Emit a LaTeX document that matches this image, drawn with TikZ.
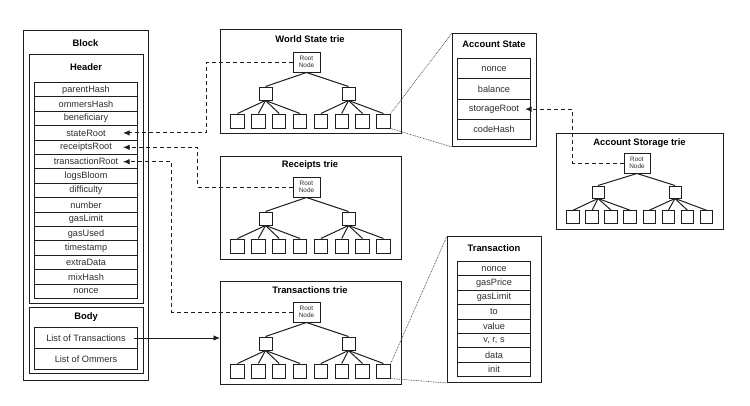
\documentclass[tikz,border=0pt]{standalone}
\usepackage{fontspec}
\setmainfont{Liberation Sans}
\usetikzlibrary{arrows.meta,calc}
\definecolor{ln}{HTML}{1E1E1E}
\definecolor{tx}{HTML}{2E2E2E}
\tikzset{
  frame/.style={draw=ln, line width=1pt, inner sep=0pt, anchor=north west},
  fld/.style={draw=ln, line width=1pt, inner sep=0pt, anchor=north west,
    font=\fontsize{9.2}{10}\selectfont, text=tx},
  ttl/.style={font=\bfseries\fontsize{9.4}{11}\selectfont, text=black, inner sep=0pt},
  rootn/.style={draw=ln, line width=1pt, inner sep=0pt, minimum width=27pt,
    minimum height=20pt, align=center, font=\fontsize{6.4}{7.6}\selectfont, text=tx},
  midn/.style={draw=ln, line width=1pt, inner sep=0pt, minimum width=13pt, minimum height=13pt},
  leafn/.style={draw=ln, line width=1pt, inner sep=0pt, minimum width=13.5pt, minimum height=14pt},
  edge/.style={draw=ln, line width=1pt},
  dashlink/.style={draw=ln, line width=1pt, dash pattern=on 4pt off 3pt,
    -{Latex[length=6.5pt,width=5.5pt]}},
  solidlink/.style={draw=ln, line width=0.9pt, -{Latex[length=6.5pt,width=5.5pt]}},
  zoomline/.style={draw=black!70, line width=0.7pt, dash pattern=on 0.8pt off 0.9pt}
}
\newcommand\mytrie[9]{%
  \node[rootn] (#1r) at (#2,#3) {Root\\Node};
  \node[midn] (#1m1) at (#6,#4) {};
  \node[midn] (#1m2) at (#7,#4) {};
  \foreach \k in {1,...,8} {\node[leafn] (#1l\k) at ({#8+#9*(\k-1)},#5) {};}
  \draw[edge] (#1r.south) -- (#1m1.north);
  \draw[edge] (#1r.south) -- (#1m2.north);
  \foreach \k in {1,...,4} {\draw[edge] (#1m1.south) -- (#1l\k.north);}
  \foreach \k in {5,...,8} {\draw[edge] (#1m2.south) -- (#1l\k.north);}
}
\begin{document}
\begin{tikzpicture}[x=1pt,y=-1pt]
\useasboundingbox[fill=white] (0,0) rectangle (750,405);

% ---------------- Block ----------------
\node[frame, minimum width=125pt, minimum height=350pt] (block) at (23,30) {};
\node[ttl] (blockt) at (85.5,43) {Block};
\node[frame, minimum width=114pt, minimum height=249pt] (header) at (29,54) {};
\node[ttl] (headert) at (86,67) {Header};
\foreach \t [count=\i] in {parentHash,ommersHash,beneficiary,stateRoot,receiptsRoot,transactionRoot,logsBloom,difficulty,number,gasLimit,gasUsed,timestamp,extraData,mixHash,nonce}
  {\node[fld, minimum width=103pt, minimum height=14.4pt] (h\i) at (34,{82+14.4*(\i-1)}) {\t};}
\node[frame, minimum width=114pt, minimum height=66pt] (body) at (29,307) {};
\node[ttl] (bodyt) at (86,317) {Body};
\node[fld, minimum width=103pt, minimum height=21pt] (bf1) at (34,327) {List of Transactions};
\node[fld, minimum width=103pt, minimum height=21pt] (bf2) at (34,348) {List of Ommers};

% ---------------- Tries ----------------
\node[frame, minimum width=181pt, minimum height=104pt] (wsbox) at (220,29) {};
\node[ttl] (wst) at (310,39) {World State trie};
\mytrie{ws}{306.5}{62}{93.5}{121}{265.5}{348.5}{237.5}{20.85}

\node[frame, minimum width=181pt, minimum height=103pt] (rbox) at (220,156) {};
\node[ttl] (rt) at (310,165) {Receipts trie};
\mytrie{rc}{306.5}{187}{218.5}{246}{265.5}{348.5}{237.5}{20.85}

\node[frame, minimum width=181pt, minimum height=103pt] (tbox) at (220,281) {};
\node[ttl] (tt) at (310,290) {Transactions trie};
\mytrie{tr}{306.5}{312}{343.5}{371}{265.5}{348.5}{237.5}{20.85}

\node[frame, minimum width=167pt, minimum height=96pt] (sbox) at (556,133) {};
\node[ttl] (st) at (639.5,143) {Account Storage trie};
\tikzset{rootn/.append style={minimum width=26pt},
  midn/.append style={minimum width=12pt, minimum height=12pt},
  leafn/.append style={minimum width=12.5pt, minimum height=12.5pt}}
\mytrie{sg}{637}{163}{192}{217}{598}{675}{573}{19.07}

% ---------------- Account State ----------------
\node[frame, minimum width=84pt, minimum height=113pt] (asbox) at (452,33) {};
\node[ttl] (ast) at (494,44) {Account State};
\foreach \t [count=\i] in {nonce,balance,storageRoot,codeHash}
  {\node[fld, minimum width=73pt, minimum height=20.25pt] (a\i) at (457,{58+20.25*(\i-1)}) {\t};}

% ---------------- Transaction ----------------
\node[frame, minimum width=94pt, minimum height=146pt] (txbox) at (447,236) {};
\node[ttl] (txt) at (494,248) {Transaction};
\foreach \t [count=\i] in {nonce,gasPrice,gasLimit,to,value,{v, r, s},data,init}
  {\node[fld, minimum width=73pt, minimum height=14.4pt] (x\i) at (457,{261+14.4*(\i-1)}) {\t};}

% ---------------- Connectors ----------------
\draw[dashlink] (wsr.west) -- ++(-86,0) |- ([xshift=-15pt]h4.east);
\draw[dashlink] (rcr.west) -- ++(-95,0) |- ([xshift=-15pt]h5.east);
\draw[dashlink] (trr.west) -- ++(-121,0) |- ([xshift=-15pt]h6.east);
\draw[dashlink] (sgr.west) -- ++(-51,0) |- ([xshift=-6pt]a3.east);
\draw[solidlink] ([xshift=-4pt]bf1.east) -- (bf1.east -| tbox.west);

\draw[zoomline] (wsl8.north east) -- (asbox.north west);
\draw[zoomline] (wsl8.south east) -- (asbox.south west);
\draw[zoomline] (trl8.north east) -- (txbox.north west);
\draw[zoomline] (trl8.south east) -- (txbox.south west);
\end{tikzpicture}
\end{document}
